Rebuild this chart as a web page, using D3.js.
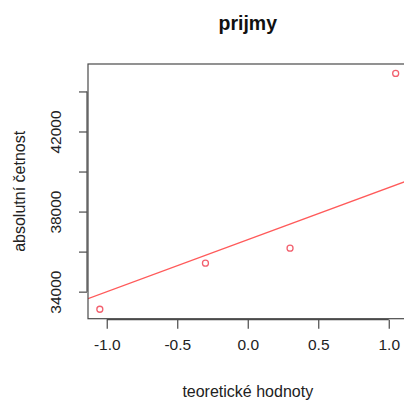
<!DOCTYPE html>
<html>
<head>
<meta charset="utf-8">
<script src="https://cdn.jsdelivr.net/npm/d3@7"></script>
<style>
  html, body { margin: 0; padding: 0; background: #fff; }
  svg { display: block; }
  text { font-family: "Liberation Sans", Arial, sans-serif; fill: #222; }
</style>
</head>
<body>
<script>
// Normal Q-Q plot of "prijmy": theoretical quantiles vs. observed values
const title = "prijmy";
const xLabel = "teoretické hodnoty";
const yLabel = "absolutní četnost";
const theoretical = [-1.049, -0.300, 0.300, 1.049];
const observed = [33120, 35420, 36170, 44900];
const xTicks = [-1.0, -0.5, 0.0, 0.5, 1.0];
const yTicks = [34000, 36000, 38000, 40000, 42000, 44000];
const yTickLabels = [34000, 38000, 42000];

const W = 404, H = 406;
const plot = { left: 88, right: 407.5, top: 64, bottom: 318.7 };

const svg = d3.select("body").append("svg")
  .attr("width", W).attr("height", H);

// R-style 4% padding around the data range
function padded(ext) {
  const d = (ext[1] - ext[0]) * 0.04;
  return [ext[0] - d, ext[1] + d];
}
const x = d3.scaleLinear().domain(padded(d3.extent(theoretical))).range([plot.left, plot.right]);
const y = d3.scaleLinear().domain(padded(d3.extent(observed))).range([plot.bottom, plot.top]);

// qqline: straight line through the first and third quartiles
const sorted = observed.slice().sort(d3.ascending);
const q1 = d3.quantile(sorted, 0.25), q3 = d3.quantile(sorted, 0.75);
const z = 0.6744898;
const slope = (q3 - q1) / (2 * z);
const intercept = (q1 + q3) / 2;

svg.append("clipPath").attr("id", "plotclip")
  .append("rect")
  .attr("x", plot.left).attr("y", plot.top)
  .attr("width", plot.right - plot.left).attr("height", plot.bottom - plot.top);

const [x0, x1] = x.domain();
svg.append("line")
  .attr("clip-path", "url(#plotclip)")
  .attr("x1", x(x0)).attr("y1", y(intercept + slope * x0))
  .attr("x2", x(x1)).attr("y2", y(intercept + slope * x1))
  .attr("stroke", "#ff5a5a").attr("stroke-width", 1.3);

svg.append("g").selectAll("circle")
  .data(theoretical.map((t, i) => [t, observed[i]]))
  .join("circle")
  .attr("cx", d => x(d[0])).attr("cy", d => y(d[1]))
  .attr("r", 3)
  .attr("fill", "none").attr("stroke", "#f2606e").attr("stroke-width", 1.3);

// plot frame
svg.append("rect")
  .attr("x", plot.left).attr("y", plot.top)
  .attr("width", plot.right - plot.left).attr("height", plot.bottom - plot.top)
  .attr("fill", "none").attr("stroke", "#4a4a4a").attr("stroke-width", 1.2);

// x axis
const xAxis = svg.append("g").attr("transform", `translate(0,${plot.bottom + 1})`)
  .call(d3.axisBottom(x).tickValues(xTicks).tickFormat(d3.format(".1f")).tickSize(9).tickPadding(10).tickSizeOuter(0));
xAxis.select(".domain")
  .attr("d", `M${x(xTicks[0])},0H${x(xTicks[xTicks.length - 1])}`)
  .attr("stroke", "#4a4a4a").attr("stroke-width", 1.2);
xAxis.selectAll(".tick line").attr("stroke", "#4a4a4a").attr("stroke-width", 1.2);
xAxis.selectAll(".tick text")
  .text(d => d3.format(".1f")(d).replace("−", "-"))
  .attr("font-size", 15.5).attr("fill", "#222")
  .style("font-family", "'Liberation Sans', Arial, sans-serif");

// y axis
const yAxis = svg.append("g").attr("transform", `translate(${plot.left - 1},0)`)
  .call(d3.axisLeft(y).tickValues(yTicks).tickSize(8).tickFormat(d => yTickLabels.includes(d) ? d : "").tickSizeOuter(0));
yAxis.select(".domain")
  .attr("d", `M0,${y(yTicks[0])}V${y(yTicks[yTicks.length - 1])}`)
  .attr("stroke", "#4a4a4a").attr("stroke-width", 1.2);
yAxis.selectAll(".tick line").attr("stroke", "#4a4a4a").attr("stroke-width", 1.2);
yAxis.selectAll(".tick text")
  .attr("x", null).attr("dy", null)
  .attr("transform", "translate(-26,0) rotate(-90)")
  .attr("text-anchor", "middle")
  .attr("font-size", 15.5).attr("fill", "#222")
  .style("font-family", "'Liberation Sans', Arial, sans-serif");

// title and axis labels
const cx = (plot.left + plot.right) / 2;
const cy = (plot.top + plot.bottom) / 2;
svg.append("text")
  .attr("x", cx).attr("y", 30)
  .attr("text-anchor", "middle")
  .attr("font-size", 19.5).attr("font-weight", "bold").style("fill", "#111")
  .text(title);
svg.append("text")
  .attr("x", cx).attr("y", 397)
  .attr("text-anchor", "middle")
  .attr("font-size", 16)
  .text(xLabel);
svg.append("text")
  .attr("transform", `translate(25,${cy}) rotate(-90)`)
  .attr("text-anchor", "middle")
  .attr("font-size", 16)
  .text(yLabel);
</script>
</body>
</html>
